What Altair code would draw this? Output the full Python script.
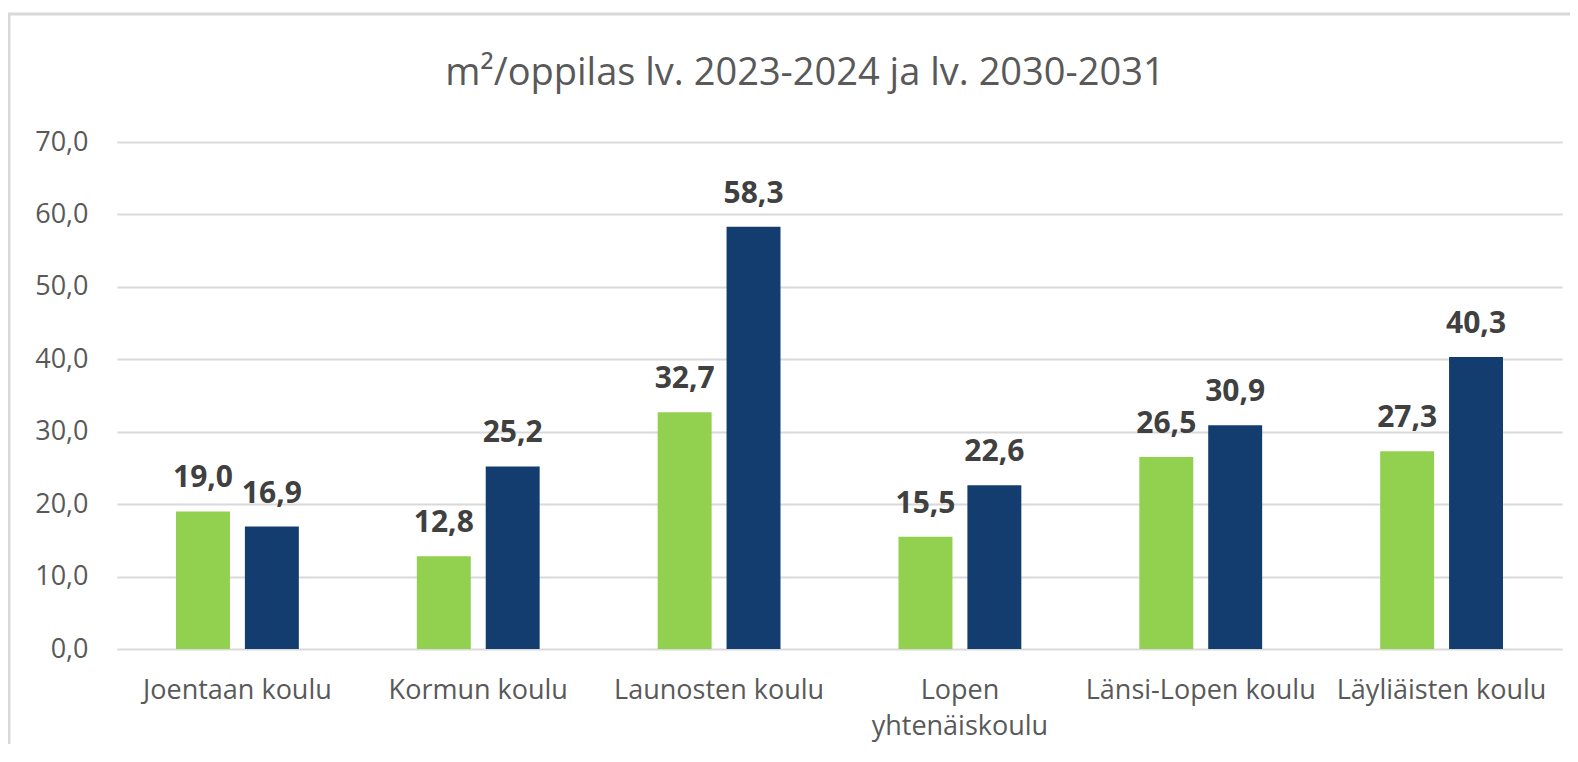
import altair as alt
import pandas as pd

schools = ["Joentaan koulu", "Kormun koulu", "Launosten koulu",
           "Lopen yhtenäiskoulu", "Länsi-Lopen koulu", "Läyliäisten koulu"]
series = ["lv. 2023-2024", "lv. 2030-2031"]
values_2023 = [19.0, 12.8, 32.7, 15.5, 26.5, 27.3]
values_2030 = [16.9, 25.2, 58.3, 22.6, 30.9, 40.3]
colors = ["#92D050", "#133D6E"]
title_text = "m²/oppilas lv. 2023-2024 ja lv. 2030-2031"

rows = []
for i, s in enumerate(schools):
    rows.append({"koulu": s, "sarja": series[0], "arvo": values_2023[i]})
    rows.append({"koulu": s, "sarja": series[1], "arvo": values_2030[i]})
df = pd.DataFrame(rows)
df["label"] = df["arvo"].map(lambda v: f"{v:.1f}".replace(".", ","))

W, H = 1445, 507
FONT = "Open Sans"

x = alt.X("koulu:N", sort=schools, title=None,
          scale=alt.Scale(paddingInner=0.49, paddingOuter=0.245),
          axis=alt.Axis(labelAngle=0, labelFontSize=27, labelColor="#595959",
                        labelFont=FONT, ticks=False, domain=False, labelPadding=41,
                        labelLimit=0, labelOverlap=False,
                        labelExpr="datum.label == 'Lopen yhtenäiskoulu' ? ['Lopen', 'yhtenäiskoulu'] : datum.label",
                        labelLineHeight=36, labelBaseline="middle"))
xo = alt.XOffset("sarja:N", sort=series,
                 scale=alt.Scale(paddingInner=0.217, paddingOuter=0))
y = alt.Y("arvo:Q", title=None,
          scale=alt.Scale(domain=[0, 70], nice=False),
          axis=alt.Axis(values=[0, 10, 20, 30, 40, 50, 60, 70],
                        labelExpr="replace(format(datum.value, '.1f'), '.', ',')",
                        labelFontSize=27, labelColor="#595959", labelFont=FONT,
                        ticks=False, domain=False, labelPadding=29,
                        gridColor="#D9D9D9", gridWidth=2))
color = alt.Color("sarja:N", sort=series,
                  scale=alt.Scale(domain=series, range=colors), legend=None)

base = alt.Chart(df).encode(x=x, xOffset=xo)
bars = base.mark_bar().encode(y=y, color=color)
labels = base.mark_text(fontSize=30, fontWeight="bold", color="#404040", font=FONT,
                        baseline="alphabetic", dy=-24).encode(
    y=alt.Y("arvo:Q"), text="label:N")

deco = pd.DataFrame({"t": [title_text]})
frame = alt.Chart(deco).mark_rect(
    fill=None, stroke="#D9D9D9", strokeWidth=3).encode(
    x=alt.value(-108), x2=alt.value(1600), y=alt.value(-128), y2=alt.value(800))
title = alt.Chart(deco).mark_text(
    fontSize=38, font=FONT, color="#595959", align="center", baseline="middle").encode(
    x=alt.value(688), y=alt.value(-68), text="t:N")

chart = alt.layer(frame, bars, labels, title).properties(
    width=W, height=H,
    padding={"left": 109, "top": 134, "right": 8, "bottom": 95},
    autosize=alt.AutoSizeParams(type="none"),
).configure_view(stroke=None)

chart.save("out.html", embed_options={"renderer": "svg", "actions": False})
